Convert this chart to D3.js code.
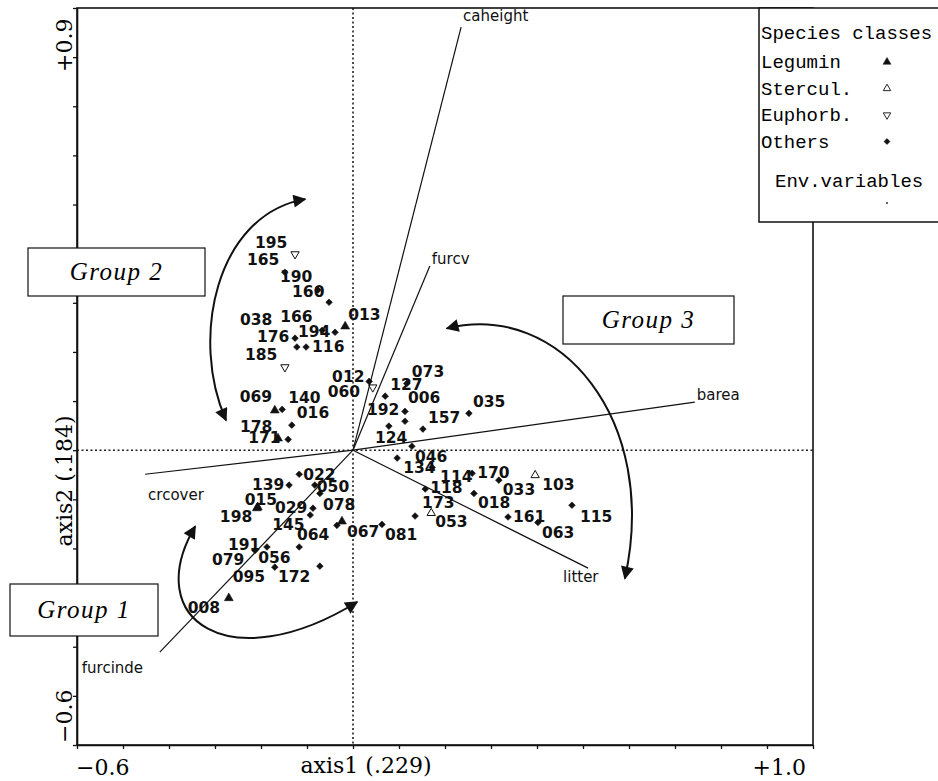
<!DOCTYPE html>
<html><head><meta charset="utf-8">
<script src="https://d3js.org/d3.v7.min.js"></script>
<style>body{margin:0;background:#fff}svg{display:block}</style>
</head><body>
<svg id="c" width="938" height="781"></svg>
<script>
// ---- data ----
const ids = ["195","165","190","160","013","038","166","194","176","116","185","012","060","069","140","016","178","171",
  "073","127","006","192","035","157","124","046","134","114","170","033","103","118","018","173","053","161","063","115",
  "022","139","050","078","015","198","029","145","064","067","081","191","079","056","095","172","008"];
const axis1 = [-0.126,-0.148,-0.076,-0.052,-0.017,-0.126,-0.067,-0.039,-0.122,-0.102,-0.148,0.035,0.043,-0.170,-0.154,-0.133,-0.163,-0.141,
  0.117,0.070,0.113,0.113,0.252,0.152,0.078,0.128,0.096,0.172,0.259,0.317,0.396,0.157,0.263,0.135,0.170,0.337,0.402,0.476,
  -0.117,-0.139,-0.083,-0.072,-0.207,-0.209,-0.087,-0.093,-0.035,-0.024,0.063,-0.187,-0.213,-0.117,-0.170,-0.072,-0.270];
const axis2 = [0.399,0.362,0.326,0.301,0.252,0.228,0.244,0.240,0.210,0.210,0.169,0.140,0.128,0.081,0.083,0.051,0.024,0.022,
  0.136,0.110,0.079,0.059,0.075,0.043,0.049,0.008,-0.016,-0.035,-0.047,-0.061,-0.051,-0.079,-0.088,-0.134,-0.128,-0.136,-0.147,-0.112,
  -0.049,-0.071,-0.071,-0.088,-0.116,-0.118,-0.118,-0.132,-0.153,-0.145,-0.151,-0.197,-0.204,-0.197,-0.238,-0.236,-0.301];
// 0 Legumin, 1 Stercul., 2 Euphorb., 3 Others
const cls = [2,3,3,3,0,3,3,3,3,3,2,3,2,0,3,3,0,3,
  3,3,3,3,3,3,3,3,3,3,3,3,1,3,3,3,1,3,3,3,
  3,3,3,3,0,0,3,3,3,0,3,3,3,3,3,3,0];
const classNames = ["Legumin","Stercul.","Euphorb.","Others"];

const envNames = ["caheight","furcv","barea","crcover","litter","furcinde"];
const envAxis1 = [0.235,0.167,0.743,-0.452,0.511,-0.420];
const envAxis2 = [0.861,0.375,0.098,-0.049,-0.240,-0.411];

const xTicks = d3.range(-6,11).map(i=>i/10);
const yTicks = d3.range(-6,10).map(i=>i/10);
const xTickLabels = ["−0.6","axis1 (.229)","+1.0"];
const yTickLabels = ["+0.9","axis2 (.184)","−0.6"];
const groupNames = ["Group 1","Group 2","Group 3"];

// ---- layout (label nudges in px) ----
const labDx = [-40,-38,-38,-37,3,-55,-42,-37,-40,6,-40,-37,-45,-35,6,5,-38,-40,
  5,5,3,-38,4,5,-14,3,6,8,5,4,7,5,4,7,4,5,4,8,
  4,-37,2,3,-13,-37,-38,-38,-40,5,3,-39,-43,-41,-42,-42,-41];
const labDy = [-6,-7,-8,-5,-6,-13,-8,5,-5,5,-7,1,10,-8,-6,-7,-6,4,
  -6,-6,-8,-6,-6,-6,17,16,15,15,5,15,15,4,15,-8,14,5,16,17,
  6,5,7,17,-2,14,5,15,15,16,16,3,15,16,15,16,15];
const envLabPos = [[2,-6],[2,-2],[2,-2],[3,26],[-25,14],[-78,21]];

const W=938,H=781;
const x = d3.scaleLinear([-0.6,1.0],[77,813]);
const y = d3.scaleLinear([-0.6,0.9],[745,8]);
const svg = d3.select("#c");
svg.append("rect").attr("width",W).attr("height",H).attr("fill","#fff");

const defs = svg.append("defs");
defs.append("marker").attr("id","ah").attr("viewBox","0 0 10 10").attr("refX",9).attr("refY",5)
  .attr("markerWidth",16).attr("markerHeight",13).attr("markerUnits","userSpaceOnUse")
  .attr("orient","auto-start-reverse")
  .append("path").attr("d","M0,0 L10,5 L0,10 z").attr("fill","#111");

// zero lines
svg.append("line").attr("x1",x(0)).attr("x2",x(0)).attr("y1",y(0.9)).attr("y2",y(-0.6))
  .attr("stroke","#222").attr("stroke-width",1.6).attr("stroke-dasharray","2,2.5");
svg.append("line").attr("x1",x(-0.6)).attr("x2",x(1.0)).attr("y1",y(0)).attr("y2",y(0))
  .attr("stroke","#222").attr("stroke-width",1.6).attr("stroke-dasharray","2,2.5");

// frame
svg.append("rect").attr("x",x(-0.6)).attr("y",y(0.9)).attr("width",x(1.0)-x(-0.6)).attr("height",y(-0.6)-y(0.9))
  .attr("fill","none").attr("stroke","#111").attr("stroke-width",1.6);

// axes ticks
const gx = svg.append("g").attr("transform",`translate(0,${y(-0.6)})`)
  .call(d3.axisBottom(x).tickValues(xTicks).tickSize(4).tickSizeOuter(0).tickFormat(""));
const gy = svg.append("g").attr("transform",`translate(${x(-0.6)},0)`)
  .call(d3.axisLeft(y).tickValues(yTicks).tickSize(4).tickSizeOuter(0).tickFormat(""));
[gx,gy].forEach(g=>{g.selectAll("path").attr("stroke","#111").attr("stroke-width",1.6);
  g.selectAll("line").attr("stroke","#111").attr("stroke-width",1.3);});

// axis texts
const serif = "'DejaVu Serif', serif";
svg.append("text").attr("x",x(-0.6)-1).attr("y",775).attr("font-family",serif).attr("font-size",22).text(xTickLabels[0]);
svg.append("text").attr("x",366).attr("y",773).attr("text-anchor","middle").attr("font-family",serif).attr("font-size",22).text(xTickLabels[1]);
svg.append("text").attr("x",806).attr("y",775).attr("text-anchor","end").attr("font-family",serif).attr("font-size",22).text(xTickLabels[2]);
svg.append("text").attr("transform","translate(72,72) rotate(-90)").attr("font-family",serif).attr("font-size",22).text(yTickLabels[0]);
svg.append("text").attr("transform","translate(72,481) rotate(-90)").attr("text-anchor","middle").attr("font-family",serif).attr("font-size",22).text(yTickLabels[1]);
svg.append("text").attr("transform","translate(72,743) rotate(-90)").attr("font-family",serif).attr("font-size",22).text(yTickLabels[2]);

// environmental vectors
const sans = "'DejaVu Sans', sans-serif";
envNames.forEach((n,i)=>{
  svg.append("line").attr("x1",x(0)).attr("y1",y(0)).attr("x2",x(envAxis1[i])).attr("y2",y(envAxis2[i]))
    .attr("stroke","#111").attr("stroke-width",1.2);
  svg.append("text").attr("x",x(envAxis1[i])+envLabPos[i][0]).attr("y",y(envAxis2[i])+envLabPos[i][1])
    .attr("font-family",sans).attr("font-size",15).attr("fill","#111").text(n);
});

// species points
const symType = [d3.symbolTriangle, d3.symbolTriangle, d3.symbolTriangle, d3.symbolSquare];
const symFill = ["#111","none","none","#111"];
const symRot = [0,0,180,45];
const symSize = [34,30,30,22];
const pg = svg.append("g");
ids.forEach((id,i)=>{
  const c = cls[i];
  pg.append("path").attr("d",d3.symbol(symType[c],symSize[c])())
    .attr("transform",`translate(${x(axis1[i])},${y(axis2[i])}) rotate(${symRot[c]})`)
    .attr("fill",symFill[c]).attr("stroke","#111").attr("stroke-width",c===1||c===2?1:0.6);
  pg.append("text").attr("x",x(axis1[i])+labDx[i]).attr("y",y(axis2[i])+labDy[i])
    .attr("font-family",sans).attr("font-weight","bold").attr("font-size",15.5).attr("fill","#111").text(id);
});

// group arcs (data coords)
const arcs = [
  [[-0.343,-0.155],[-0.463,-0.346],[-0.267,-0.468],[0.009,-0.309]],
  [[-0.104,0.511],[-0.300,0.479],[-0.354,0.224],[-0.276,0.061]],
  [[0.204,0.248],[0.450,0.305],[0.667,0.061],[0.591,-0.261]]
];
arcs.forEach(a=>{
  const p = d3.path();
  p.moveTo(x(a[0][0]),y(a[0][1]));
  p.bezierCurveTo(x(a[1][0]),y(a[1][1]),x(a[2][0]),y(a[2][1]),x(a[3][0]),y(a[3][1]));
  svg.append("path").attr("d",p.toString()).attr("fill","none").attr("stroke","#111").attr("stroke-width",2)
    .attr("marker-start","url(#ah)").attr("marker-end","url(#ah)");
});

// group boxes
const boxes = [[10,584,148,52],[28,248,177,48],[563,296,171,48]];
boxes.forEach((b,i)=>{
  svg.append("rect").attr("x",b[0]).attr("y",b[1]).attr("width",b[2]).attr("height",b[3])
    .attr("fill","#fff").attr("stroke","#111").attr("stroke-width",1.2);
  svg.append("text").attr("x",b[0]+b[2]/2).attr("y",b[1]+b[3]/2+8).attr("text-anchor","middle")
    .attr("font-family","'Liberation Serif', serif").attr("font-style","italic").attr("font-size",25)
    .attr("letter-spacing",1.5).text(groupNames[i]);
});

// legend
const mono = "'Liberation Mono', monospace";
svg.append("rect").attr("x",759).attr("y",8).attr("width",190).attr("height",214)
  .attr("fill","#fff").attr("stroke","#111").attr("stroke-width",1.5);
svg.append("text").attr("x",761).attr("y",39).attr("font-family",mono).attr("font-size",19).text("Species classes");
classNames.forEach((n,i)=>{
  const yy = 68 + i*26.5;
  svg.append("text").attr("x",761).attr("y",yy).attr("font-family",mono).attr("font-size",19).text(n);
  svg.append("path").attr("d",d3.symbol(symType[i],symSize[i]*0.8)())
    .attr("transform",`translate(887,${yy-6}) rotate(${symRot[i]})`)
    .attr("fill",symFill[i]).attr("stroke","#111").attr("stroke-width",i===1||i===2?0.9:0.5);
});
svg.append("text").attr("x",775).attr("y",187).attr("font-family",mono).attr("font-size",19).text("Env.variables");
svg.append("circle").attr("cx",887).attr("cy",203).attr("r",1).attr("fill","#333");
</script>
</body></html>
